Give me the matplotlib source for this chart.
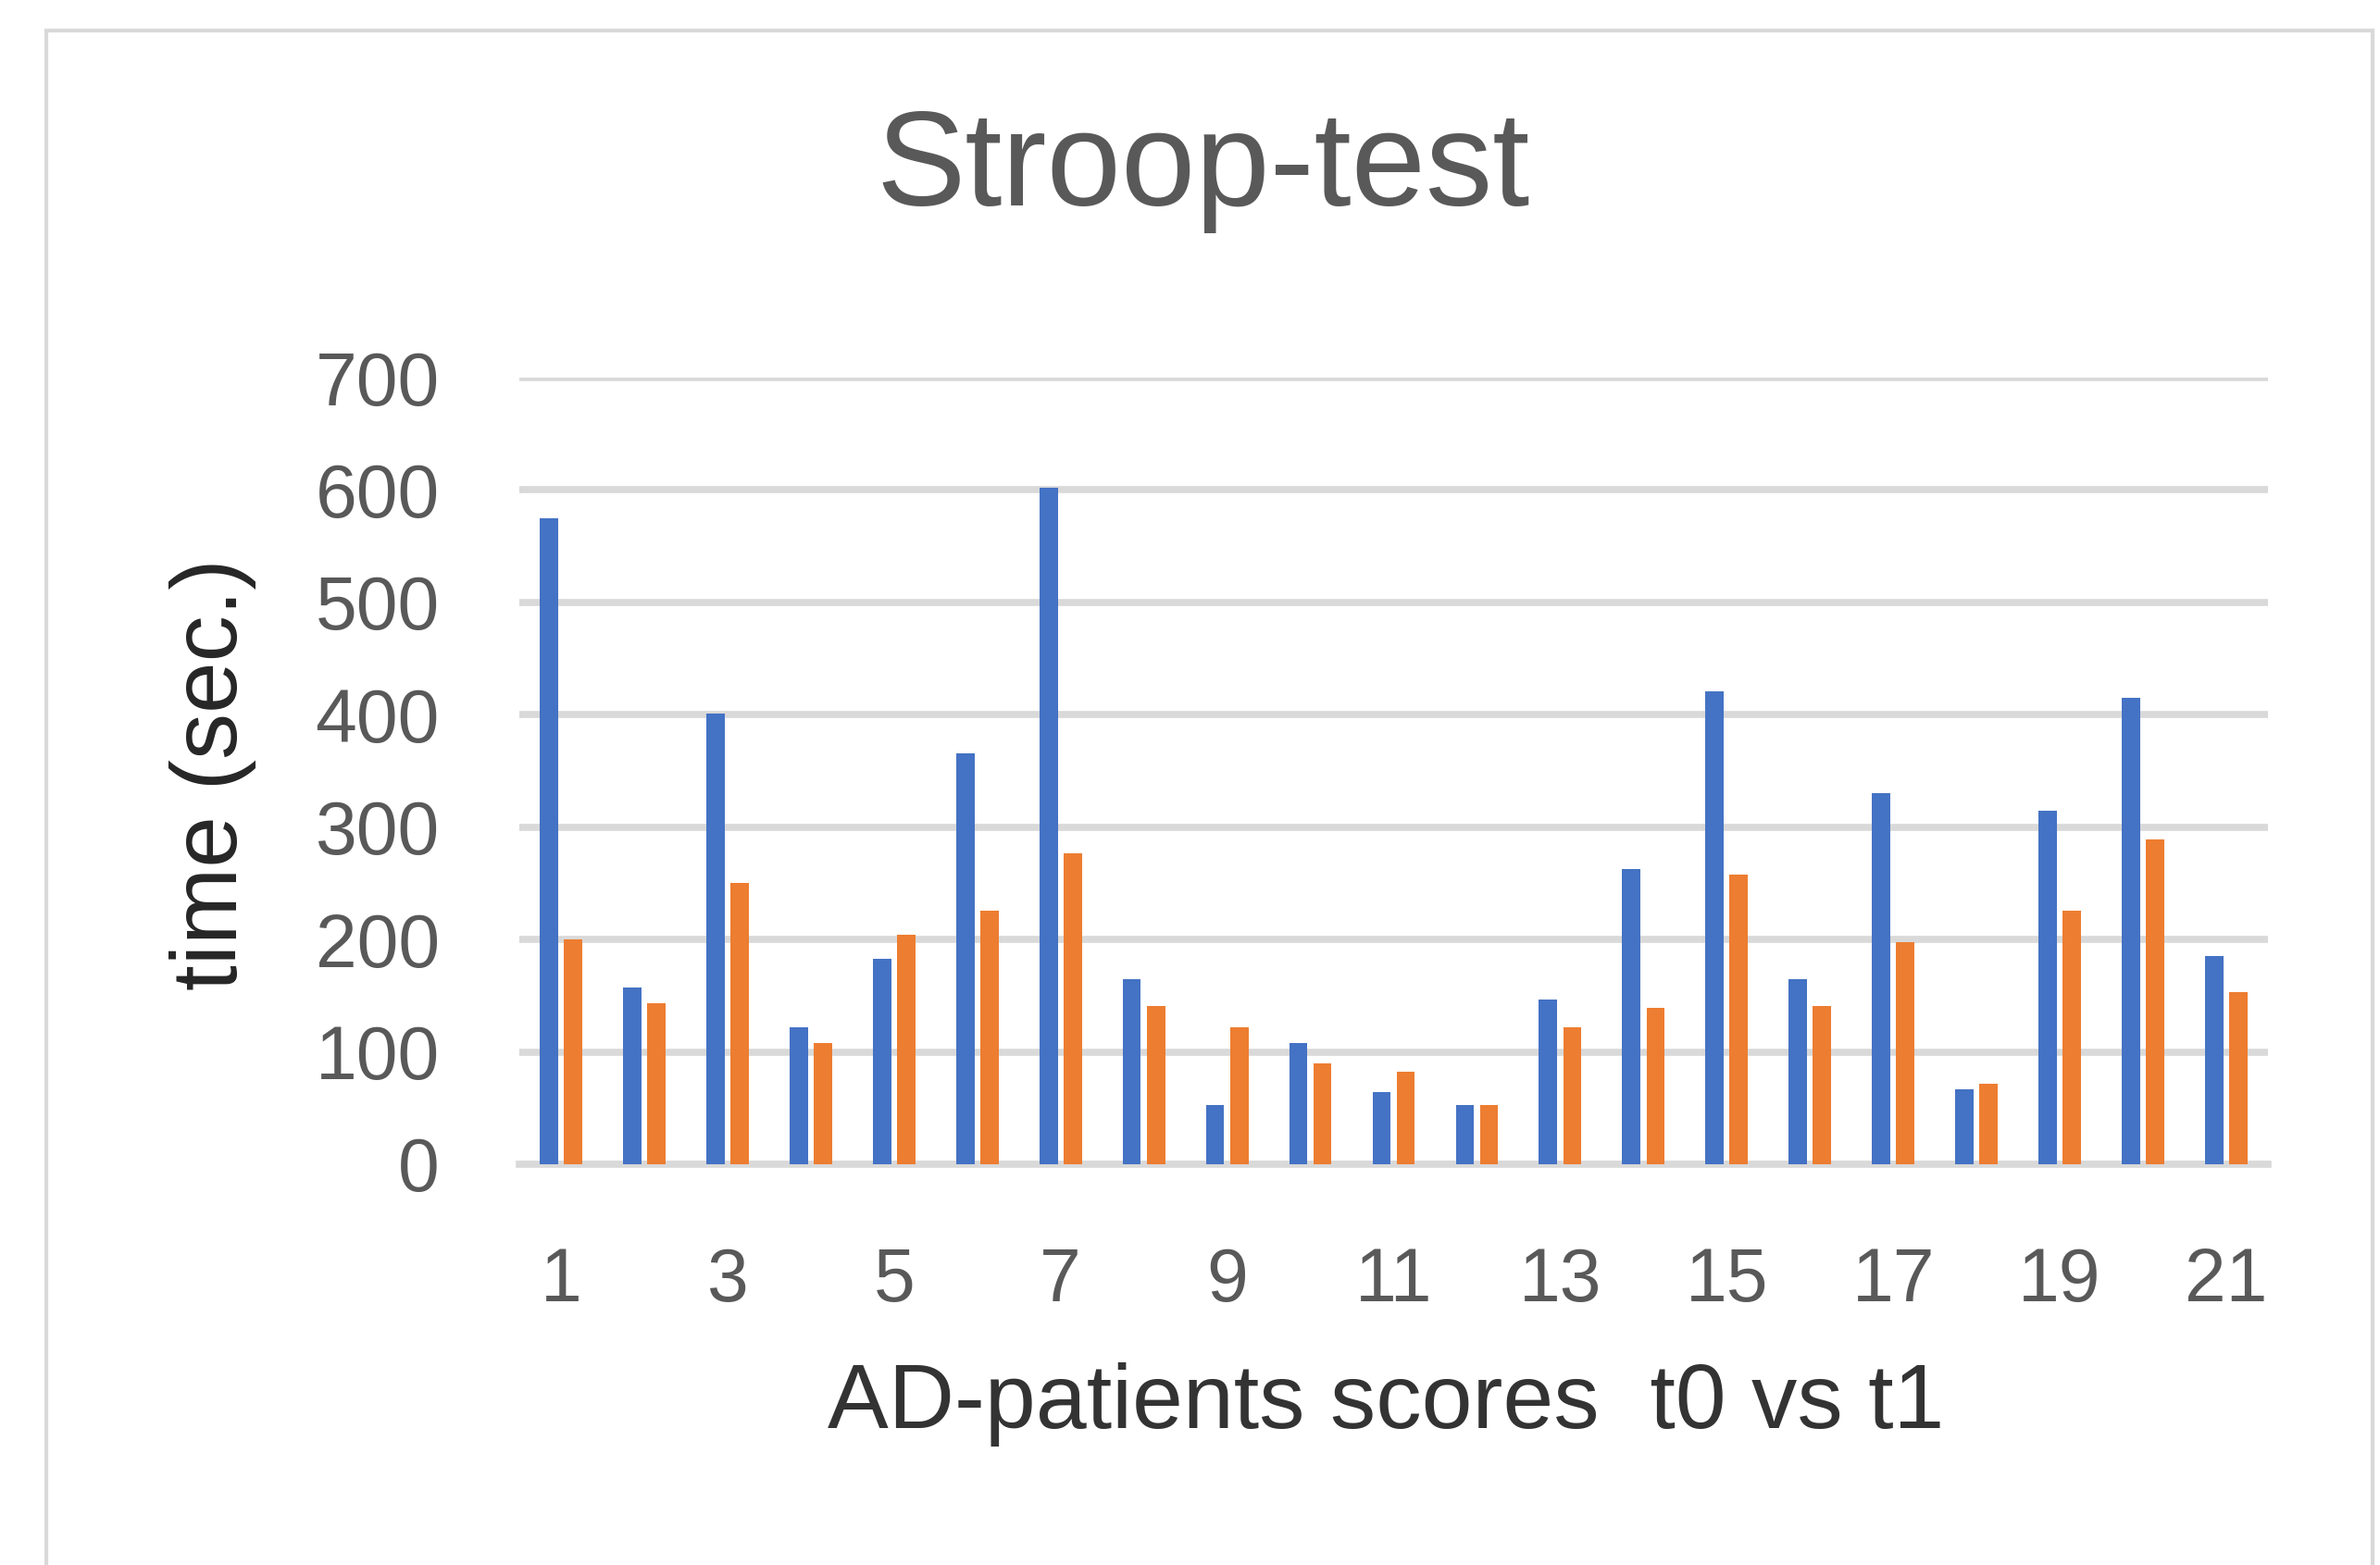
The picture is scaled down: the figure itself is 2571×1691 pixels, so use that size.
import matplotlib
matplotlib.use("Agg")
import matplotlib.pyplot as plt
import matplotlib.patches as mpatches
import numpy as np

patients = list(range(1, 22))
t0_scores = [575, 157, 401, 122, 183, 366, 602, 165, 53, 108, 64,
             53, 147, 263, 421, 165, 330, 67, 315, 415, 185]
t1_scores = [200, 143, 250, 108, 204, 226, 277, 141, 122, 90, 82,
             53, 122, 139, 258, 141, 198, 72, 226, 289, 153]
tick_labels = [str(p) if p % 2 == 1 else "" for p in patients]
yticks = [0, 100, 200, 300, 400, 500, 600, 700]

title = "Stroop-test"
xlabel = "AD-patients scores  t0 vs t1"
ylabel = "time (sec.)"

BLUE = "#4472C4"
ORANGE = "#ED7D31"
GRID = "#D9D9D9"

plt.rcParams['font.family'] = ['Liberation Sans', 'DejaVu Sans']

W, H = 2571, 1691
fig = plt.figure(figsize=(W / 100, H / 100), dpi=100)
fig.patch.set_facecolor("white")

# chart frame
frame = mpatches.Rectangle((50 / W, -0.02), (2563 - 50) / W, 1 - 33 / H + 0.02,
                           transform=fig.transFigure, fill=False,
                           edgecolor=GRID, linewidth=3, clip_on=False)
fig.patches.append(frame)

left, right = 561 / W, 2450 / W
top, bottom = 1 - 408 / H, 1 - 1258 / H
ax = fig.add_axes([left, bottom, right - left, top - bottom])

x = np.array(patients, dtype=float)
bw = 0.22
off = 0.145
ax.bar(x - off, t0_scores, width=bw, color=BLUE, zorder=3, label="t0")
ax.bar(x + off, t1_scores, width=bw, color=ORANGE, zorder=3, label="t1")

ax.set_xlim(0.5, 21.5)
ax.set_ylim(0, 700)
ax.set_yticks(yticks)
ax.set_xticks(patients)
ax.set_xticklabels(tick_labels)

ax.yaxis.grid(True, color=GRID, linewidth=5.5, zorder=0)
ax.set_axisbelow(True)
for s in ["top", "right", "left"]:
    ax.spines[s].set_visible(False)
ax.spines["bottom"].set_color(GRID)
ax.spines["bottom"].set_linewidth(5.5)
ax.spines["bottom"].set_zorder(1)

ax.tick_params(axis="both", length=0, labelsize=58, labelcolor="#595959")
ax.tick_params(axis="y", pad=62)
ax.tick_params(axis="x", pad=64)

ax.set_xlabel(xlabel, fontsize=71, color="#333333", va="center")
ax.xaxis.set_label_coords(0.4955, -0.305)
ax.set_ylabel(ylabel, fontsize=72, color="#262626", va="center")
ax.yaxis.set_label_coords(-0.175, 0.496)

fig.suptitle(title, x=1300 / W, y=0.891, va="center", fontsize=104, color="#595959")

fig.savefig("out.png", dpi=100, facecolor="white")
